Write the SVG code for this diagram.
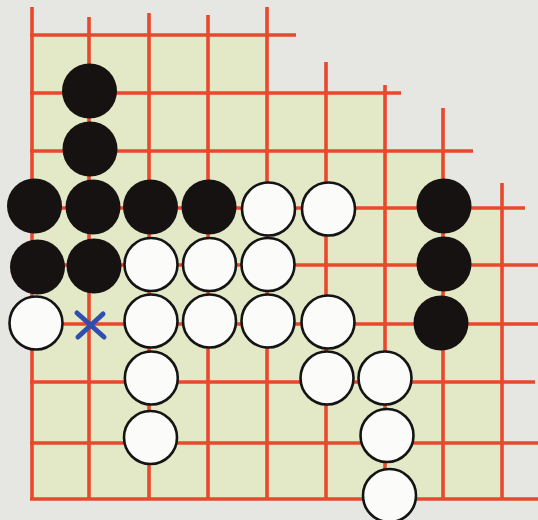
<svg xmlns="http://www.w3.org/2000/svg" width="538" height="520" viewBox="0 0 538 520">
  <style>
    .grid line { stroke: #e8482c; stroke-width: 3.6; stroke-linecap: butt; }
    .b { fill: #161212; }
    .w { fill: #fbfbfa; stroke: #141414; stroke-width: 2.6; }
    .x { stroke: #2f4fae; stroke-width: 5; stroke-linecap: round; fill: none; }
  </style>
  <rect x="0" y="0" width="538" height="520" fill="#e6e6e3"/>
  <polygon id="board" points="32,35 267,35 267,93 385,93 385,151 443,151 443,208 502,208 502,499 32,499" fill="#e3e8c6"/>
  <g id="connectors" class="grid">
    <line x1="32" y1="7" x2="32" y2="499"/>
    <line x1="89" y1="17" x2="89" y2="499"/>
    <line x1="149" y1="13" x2="149" y2="499"/>
    <line x1="208" y1="15" x2="208" y2="499"/>
    <line x1="267" y1="7" x2="267" y2="499"/>
    <line x1="326" y1="62" x2="326" y2="499"/>
    <line x1="385" y1="85" x2="385" y2="499"/>
    <line x1="443" y1="108" x2="443" y2="499"/>
    <line x1="502" y1="183" x2="502" y2="499"/>
    <line x1="30" y1="35" x2="296" y2="35"/>
    <line x1="30" y1="93" x2="401" y2="93"/>
    <line x1="30" y1="151" x2="473" y2="151"/>
    <line x1="30" y1="208" x2="525" y2="208"/>
    <line x1="30" y1="265" x2="538" y2="265"/>
    <line x1="30" y1="324" x2="538" y2="324"/>
    <line x1="30" y1="382" x2="535" y2="382"/>
    <line x1="30" y1="443" x2="538" y2="443"/>
    <line x1="30" y1="499" x2="538" y2="499"/>
  </g>
  <g id="stones">
    <g id="b1"><circle class="b" cx="89.5" cy="91" r="27.5"/></g>
    <g id="b2"><circle class="b" cx="90" cy="149" r="27.5"/></g>
    <g id="b3"><circle class="b" cx="34.5" cy="206" r="27.5"/></g>
    <g id="b4"><circle class="b" cx="93" cy="207" r="27.5"/></g>
    <g id="b5"><circle class="b" cx="150.5" cy="207" r="27.5"/></g>
    <g id="b6"><circle class="b" cx="209" cy="207" r="27.5"/></g>
    <g id="b7"><circle class="b" cx="37.5" cy="267" r="27.5"/></g>
    <g id="b8"><circle class="b" cx="94" cy="266" r="27.5"/></g>
    <g id="b9"><circle class="b" cx="444" cy="206" r="27.5"/></g>
    <g id="b10"><circle class="b" cx="444" cy="264" r="27.5"/></g>
    <g id="b11"><circle class="b" cx="441" cy="323" r="27.5"/></g>
    <g id="w1"><circle class="w" cx="268.5" cy="209" r="26.5"/></g>
    <g id="w2"><circle class="w" cx="328.5" cy="209" r="26.5"/></g>
    <g id="w3"><circle class="w" cx="151" cy="264.5" r="26.5"/></g>
    <g id="w4"><circle class="w" cx="209.5" cy="264.5" r="26.5"/></g>
    <g id="w5"><circle class="w" cx="268" cy="264.5" r="26.5"/></g>
    <g id="w6"><circle class="w" cx="36" cy="323" r="26.5"/></g>
    <g id="w7"><circle class="w" cx="151" cy="321" r="26.5"/></g>
    <g id="w8"><circle class="w" cx="209.5" cy="321" r="26.5"/></g>
    <g id="w9"><circle class="w" cx="268" cy="321" r="26.5"/></g>
    <g id="w10"><circle class="w" cx="328" cy="322" r="26.5"/></g>
    <g id="w11"><circle class="w" cx="151.3" cy="378" r="26.5"/></g>
    <g id="w12"><circle class="w" cx="327" cy="378" r="26.5"/></g>
    <g id="w13"><circle class="w" cx="385" cy="378" r="26.5"/></g>
    <g id="w14"><circle class="w" cx="150.5" cy="437.5" r="26.5"/></g>
    <g id="w15"><circle class="w" cx="387" cy="435.5" r="26.5"/></g>
    <g id="w16"><circle class="w" cx="389.5" cy="495.5" r="26.5"/></g>
  </g>
  <g id="mark">
    <path class="x" d="M77,313 L104,337 M103,314 L78,337"/>
  </g>
</svg>
